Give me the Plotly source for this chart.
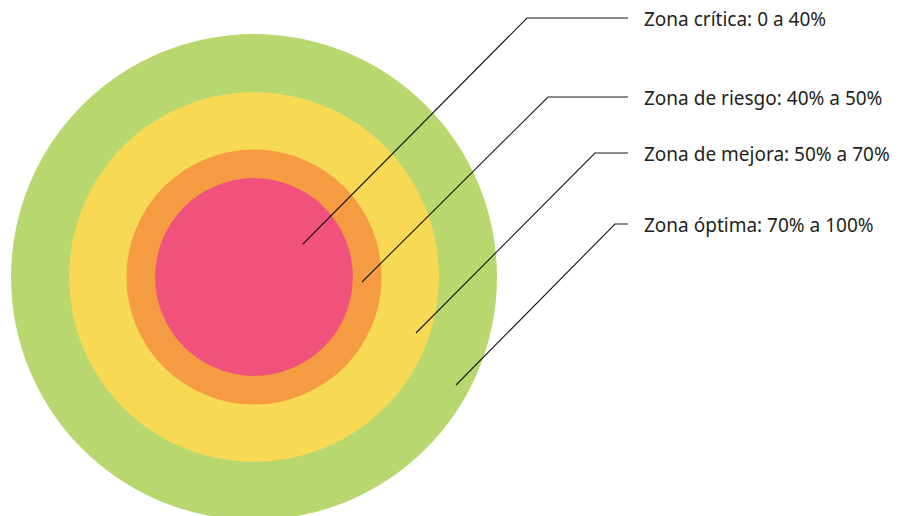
import plotly.graph_objects as go

# ---- data ----
zone_labels = [
    "Zona crítica: 0 a 40%",
    "Zona de riesgo: 40% a 50%",
    "Zona de mejora: 50% a 70%",
    "Zona óptima: 70% a 100%",
]
zone_radii = [0.407, 0.525, 0.761, 1.0]   # relative radius of each ring (outer edge)
zone_colors = ["#f0527c", "#f59c42", "#f7d954", "#b8d86f"]

# ---- layout helpers (pixel geometry -> data units) ----
W, H = 901, 516
CX, CY, R = 254, 277, 243          # circle centre and outer radius in px


def dx(px):
    return (px - CX) / R


def dy(py):
    return (CY - py) / R


fig = go.Figure()

# concentric circles, largest first
shapes = []
for r, c in sorted(zip(zone_radii, zone_colors), key=lambda t: -t[0]):
    shapes.append(dict(type="circle", xref="x", yref="y",
                       x0=-r, x1=r, y0=-r, y1=r,
                       fillcolor=c, line=dict(width=0), layer="below"))

# leader lines (end inside ring, elbow, label start) in px
leaders = [
    [(303, 244), (527, 18), (628, 18)],
    [(362, 282), (548, 97), (628, 97)],
    [(416, 333), (595, 153), (628, 153)],
    [(456, 385), (615, 224), (628, 224)],
]
annotations = []
for lab, pts in zip(zone_labels, leaders):
    fig.add_trace(go.Scatter(
        x=[dx(p[0]) for p in pts], y=[dy(p[1]) for p in pts],
        mode="lines", line=dict(color="#1a1718", width=1.1),
        hoverinfo="skip", showlegend=False))
    annotations.append(dict(
        x=dx(642), y=dy(pts[-1][1] + 1), xref="x", yref="y",
        text=lab, showarrow=False, xanchor="left", yanchor="middle",
        font=dict(family="Noto Sans", size=19, color="#231f20")))

fig.update_layout(
    width=W, height=H,
    margin=dict(l=0, r=0, t=0, b=0),
    paper_bgcolor="white", plot_bgcolor="white",
    shapes=shapes, annotations=annotations,
    xaxis=dict(range=[dx(0), dx(W)], visible=False, fixedrange=True),
    yaxis=dict(range=[dy(H), dy(0)], visible=False, fixedrange=True),
    showlegend=False,
)

fig.write_html(
    "out.html",
    config={"displayModeBar": False},
    post_script="document.body.style.margin='0';document.body.style.overflow='hidden';",
)
